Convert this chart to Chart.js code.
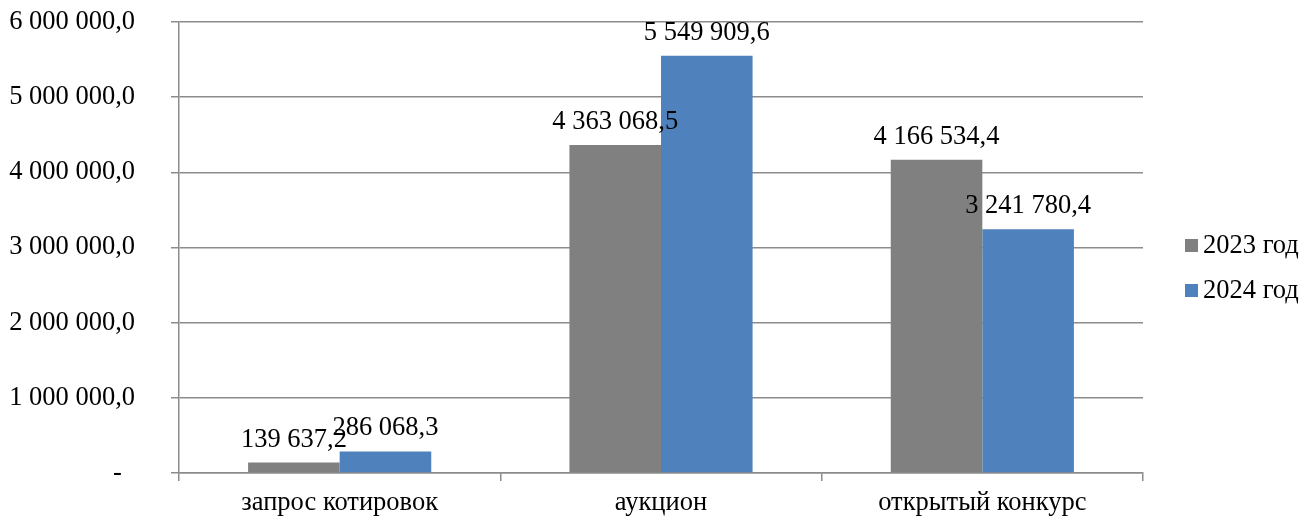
<!DOCTYPE html>
<html>
<head>
<meta charset="utf-8">
<script src="https://cdn.jsdelivr.net/npm/chart.js@4.4.1/dist/chart.umd.min.js"></script>
<style>
  body { margin: 0; background: #fff; }
  #wrap { width: 1304px; height: 519px; }
</style>
</head>
<body>
<div id="wrap"><canvas id="chart" width="1304" height="519"></canvas></div>
<script>
const categories = ["запрос котировок", "аукцион", "открытый конкурс"];
const seriesNames = ["2023 год", "2024 год"];
const values2023 = [139637.2, 4363068.5, 4166534.4];
const values2024 = [286068.3, 5549909.6, 3241780.4];
const yTicksMax = 6000000;
const yTicksStep = 1000000;

const fontFam = "'Liberation Serif', 'Times New Roman', serif";
const fontSize = 26.5;
const gridCol = "#8c8c8c";

// 1 234 567,8 style, zero shown as a dash (padded like excel does)
function fmt(v) {
  if (v === 0) return "-\u2007";
  const parts = v.toFixed(1).split(".");
  const intPart = parts[0].replace(/\B(?=(\d{3})+(?!\d))/g, " ");
  return intPart + "," + parts[1];
}

const barLabels = {
  id: "barLabels",
  afterDatasetsDraw(chart) {
    const ctx = chart.ctx;
    ctx.save();
    ctx.font = fontSize + "px " + fontFam;
    ctx.fillStyle = "#000";
    ctx.textAlign = "center";
    ctx.textBaseline = "alphabetic";
    chart.data.datasets.forEach((ds, i) => {
      chart.getDatasetMeta(i).data.forEach((bar, j) => {
        ctx.fillText(fmt(ds.data[j]), bar.x, bar.y - 16);
      });
    });
    ctx.restore();
  }
};

const sideLegend = {
  id: "sideLegend",
  afterDraw(chart) {
    const ctx = chart.ctx;
    ctx.save();
    ctx.font = fontSize + "px " + fontFam;
    ctx.textBaseline = "middle";
    ctx.textAlign = "left";
    chart.data.datasets.forEach((ds, i) => {
      const y = 245 + i * 45;
      ctx.fillStyle = ds.backgroundColor;
      ctx.fillRect(1185, y - 6, 13, 13);
      ctx.fillStyle = "#000";
      ctx.fillText(ds.label, 1203, y + 1);
    });
    ctx.restore();
  }
};

new Chart("chart", {
  type: "bar",
  data: {
    labels: categories,
    datasets: [
      {
        label: seriesNames[0],
        data: values2023,
        backgroundColor: "#808080",
        barPercentage: 1,
        categoryPercentage: 0.57
      },
      {
        label: seriesNames[1],
        data: values2024,
        backgroundColor: "#4f81bd",
        barPercentage: 1,
        categoryPercentage: 0.57
      }
    ]
  },
  options: {
    responsive: false,
    animation: false,
    layout: { padding: { top: 22, right: 161, left: 0, bottom: 0 } },
    plugins: {
      legend: { display: false },
      tooltip: { enabled: false }
    },
    scales: {
      x: {
        grid: { offset: true, drawOnChartArea: false, drawTicks: true, tickLength: 8, color: gridCol, lineWidth: 1.5 },
        border: { display: true, color: gridCol, width: 1.5 },
        ticks: { color: "#000", font: { family: fontFam, size: fontSize }, padding: 6, maxRotation: 0 },
        afterFit(scale) { scale.height = 46; scale.paddingLeft = 0; scale.paddingRight = 0; }
      },
      y: {
        min: 0,
        max: yTicksMax,
        ticks: { stepSize: yTicksStep, color: "#000", font: { family: fontFam, size: fontSize }, padding: 36, callback: v => fmt(v) },
        grid: { color: gridCol, lineWidth: 1.5, tickLength: 8, tickColor: gridCol },
        border: { display: true, color: gridCol, width: 1.5 },
        afterFit(scale) { scale.width = 179; scale.paddingTop = 0; scale.paddingBottom = 0; }
      }
    }
  },
  plugins: [barLabels, sideLegend]
});
</script>
</body>
</html>
